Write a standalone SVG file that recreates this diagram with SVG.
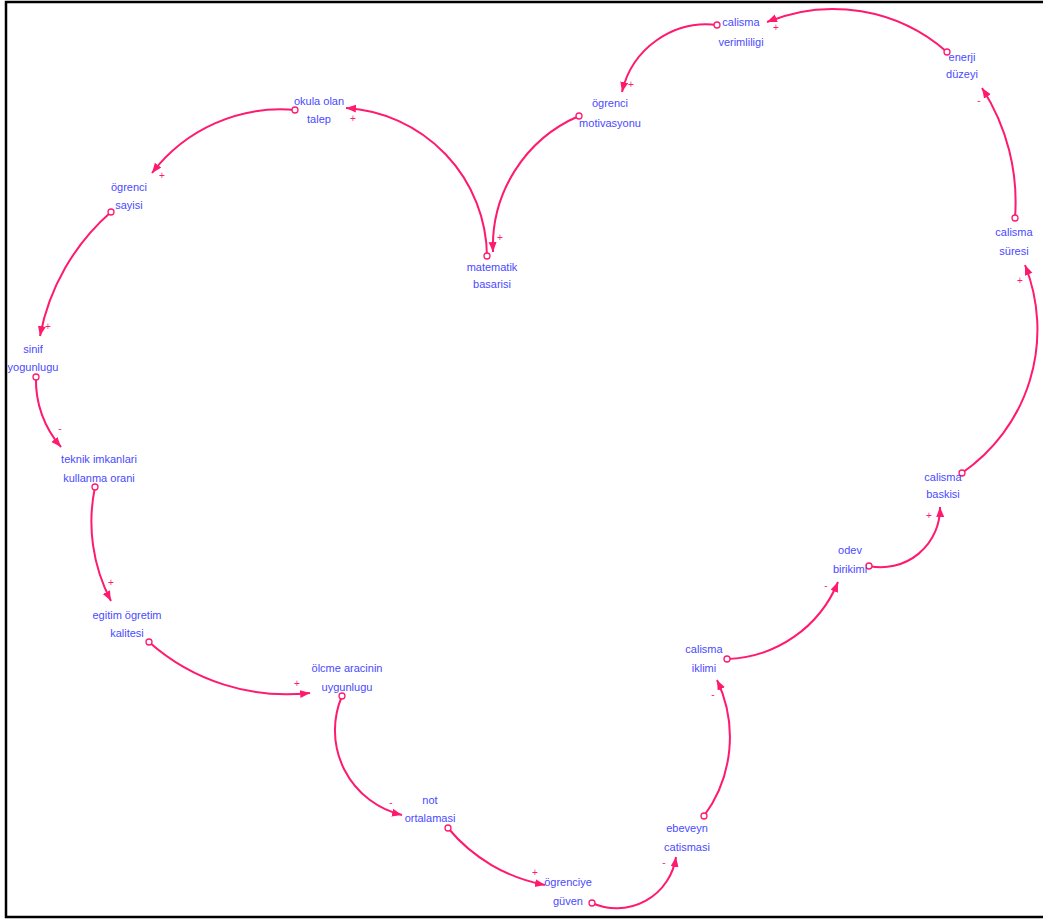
<svg xmlns="http://www.w3.org/2000/svg" width="1043" height="920" viewBox="0 0 1043 920">
<style>
.n text{font-family:"Liberation Sans",Arial,sans-serif;font-size:11px;fill:#4a4aff;text-anchor:middle}
.c path{fill:none;stroke:#ff1a6e;stroke-width:2;marker-end:url(#ah)}
.c circle{fill:#fff;stroke:#ff1a6e;stroke-width:1.3}
.s text{font-family:"Liberation Sans",Arial,sans-serif;font-size:10px;fill:#ff1a6e;text-anchor:middle}
</style>
<defs>
<marker id="ah" markerUnits="userSpaceOnUse" markerWidth="12" markerHeight="10" refX="10" refY="4" orient="auto">
<path d="M0,0 L10,4 L0,8 z" fill="#ff1a6e"/>
</marker>
</defs>
<rect x="6" y="2" width="1040" height="915" fill="#fff" stroke="#000" stroke-width="2.5"/>
<g class="c" id="connectors">
<path d="M947,52 A173,173 0 0 0 767,22"/>
<path d="M717,25 A87,87 0 0 0 622,92"/>
<path d="M579,116 A142,142 0 0 0 493,252"/>
<path d="M487,256 A150,150 0 0 0 346,108"/>
<path d="M295,110 A162,162 0 0 0 152,173"/>
<path d="M111,212 A219,219 0 0 0 40,336"/>
<path d="M36,377 A101,101 0 0 0 61,447"/>
<path d="M95,487 A170,170 0 0 0 111,601"/>
<path d="M149,642 A207,207 0 0 0 310,693"/>
<path d="M342,696 A87,87 0 0 0 402,815"/>
<path d="M448,828 A165,165 0 0 0 545,885"/>
<path d="M592,903 A60,60 0 0 0 676,857"/>
<path d="M704,816 A133,133 0 0 0 717,680"/>
<path d="M727,659 A124,124 0 0 0 838,582"/>
<path d="M869,566 A59,59 0 0 0 940,507"/>
<path d="M962,473 A174,174 0 0 0 1025,265"/>
<path d="M1015,218 A210,210 0 0 0 982,88"/>
<circle cx="947" cy="52" r="3"/>
<circle cx="717" cy="25" r="3"/>
<circle cx="579" cy="116" r="3"/>
<circle cx="487" cy="256" r="3"/>
<circle cx="295" cy="110" r="3"/>
<circle cx="111" cy="212" r="3"/>
<circle cx="36" cy="377" r="3"/>
<circle cx="95" cy="487" r="3"/>
<circle cx="149" cy="642" r="3"/>
<circle cx="342" cy="696" r="3"/>
<circle cx="448" cy="828" r="3"/>
<circle cx="592" cy="903" r="3"/>
<circle cx="704" cy="816" r="3"/>
<circle cx="727" cy="659" r="3"/>
<circle cx="869" cy="566" r="3"/>
<circle cx="962" cy="473" r="3"/>
<circle cx="1015" cy="218" r="3"/>
</g>
<g class="s" id="signs">
<text x="776" y="31">+</text>
<text x="631" y="88">+</text>
<text x="500" y="241">+</text>
<text x="353" y="122">+</text>
<text x="162" y="179">+</text>
<text x="48" y="330">+</text>
<text x="60" y="432">-</text>
<text x="111" y="586">+</text>
<text x="297" y="687">+</text>
<text x="391" y="806">-</text>
<text x="535" y="876">+</text>
<text x="664" y="866">-</text>
<text x="713" y="698">-</text>
<text x="826" y="589">-</text>
<text x="929" y="519">+</text>
<text x="1020" y="284">+</text>
<text x="979" y="104">-</text>
</g>
<g class="n" id="calisma_verimliligi"><text x="741" y="26">calisma</text><text x="741" y="46">verimliligi</text></g>
<g class="n" id="enerji_duzeyi"><text x="962" y="61">enerji</text><text x="962" y="78">düzeyi</text></g>
<g class="n" id="ogrenci_motivasyonu"><text x="610" y="107">ögrenci</text><text x="610" y="127">motivasyonu</text></g>
<g class="n" id="okula_olan_talep"><text x="319" y="105">okula olan</text><text x="319" y="123">talep</text></g>
<g class="n" id="matematik_basarisi"><text x="492" y="271">matematik</text><text x="492" y="288">basarisi</text></g>
<g class="n" id="ogrenci_sayisi"><text x="129" y="191">ögrenci</text><text x="129" y="209">sayisi</text></g>
<g class="n" id="sinif_yogunlugu"><text x="33" y="353">sinif</text><text x="33" y="371">yogunlugu</text></g>
<g class="n" id="teknik_imkanlari"><text x="99" y="463">teknik imkanlari</text><text x="99" y="482">kullanma orani</text></g>
<g class="n" id="egitim_ogretim"><text x="127" y="619">egitim ögretim</text><text x="127" y="637">kalitesi</text></g>
<g class="n" id="olcme_araci"><text x="347" y="672">ölcme aracinin</text><text x="347" y="691">uygunlugu</text></g>
<g class="n" id="not_ortalamasi"><text x="430" y="804">not</text><text x="430" y="822">ortalamasi</text></g>
<g class="n" id="ogrenciye_guven"><text x="568" y="886">ögrenciye</text><text x="568" y="905">güven</text></g>
<g class="n" id="ebeveyn_catismasi"><text x="687" y="832">ebeveyn</text><text x="687" y="851">catismasi</text></g>
<g class="n" id="calisma_iklimi"><text x="704" y="653">calisma</text><text x="704" y="672">iklimi</text></g>
<g class="n" id="odev_birikimi"><text x="850" y="554">odev</text><text x="850" y="573">birikimi</text></g>
<g class="n" id="calisma_baskisi"><text x="943" y="481">calisma</text><text x="943" y="498">baskisi</text></g>
<g class="n" id="calisma_suresi"><text x="1014" y="236">calisma</text><text x="1014" y="255">süresi</text></g>
</svg>
